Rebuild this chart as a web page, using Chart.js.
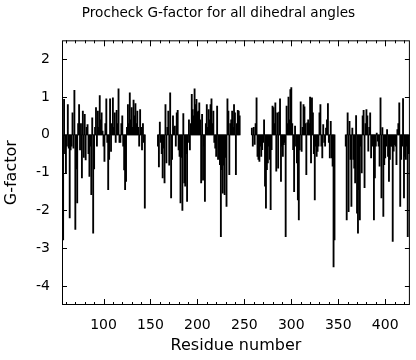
<!DOCTYPE html>
<html>
<head>
<meta charset="utf-8">
<script src="https://cdn.jsdelivr.net/npm/chart.js@4/dist/chart.umd.min.js"></script>
<style>
  body { margin: 0; background: #fff; }
</style>
</head>
<body>
<canvas id="gfactorChart" width="416" height="360"></canvas>
<script>
// first residue of each chain segment (gaps between segments have no data)
const segmentStarts = [57, 158, 258, 358];

// G-factor per residue
const gSegment1 = [
  -2.78, 0.94, -0.5, -1.0, -0.3, 0.8, -0.35, -2.2, -0.4, -0.3,
  0.58, -0.35, 1.18, -2.5, -0.9, -1.8, 0.3, 0.8, -0.4, 0.3,
  -1.14, 0.63, -0.6, 0.54, -0.66, 0.2, 0.27, -0.5, -1.1, -0.3,
  -1.58, 0.45, -2.6, -0.9, 0.2, 0.72, -0.3, 0.63, 0.2, 1.04,
  0.4, 0.58, 0.1, -0.3, -0.7, 0.3, 0.95, -0.2, -1.45, -0.65,
  0.95, -0.44, 0.3, 0.98, 0.2, 0.58, -0.2, 0.65, 0.3, 1.22,
  -0.2, -0.2, 0.3, 0.5, -0.3, -0.93, -1.45, -1.23, 0.2, 0.8,
  0.3, 1.11, 0.4, 0.72, 0.2, 0.92, 0.5, 0.83, 0.3, 0.63,
  0.2, -0.3, 0.67, 0.2, -0.4, 0.3, -0.2, -1.94
];
const gSegment2 = [
  -0.3, -0.85, 0.34, -0.2, -0.5, -1.14, -0.35, -1.27, 0.8, -0.74,
  0.2, 0.63, -0.8, 1.11, -1.67, -0.65, 0.5, 0.2, 0.23, -0.3,
  0.58, 0.65, -0.4, -0.57, -1.8, -0.6, -2.0, 0.56, -1.27, -1.36,
  -0.5, -1.76, -0.2, 0.4, -0.4, 0.3, 1.07, 0.67, 0.5, 1.22,
  0.8, 0.94, 0.6, 0.63, 0.85, 0.4, -1.27, 0.54, -1.2, -0.3,
  -1.76, 0.3, 0.8, 0.2, 0.67, 0.4, 0.8, 0.95, 0.3, 0.63,
  -0.2, -0.35, -0.57, 0.76, -0.65, -0.4, -0.79, -2.69, -0.92, -1.54,
  -0.8, -1.58, -0.6, -1.89, 0.95, 0.63, -1.05, 0.3, 0.4, 0.63,
  0.2, 0.8, 0.58, -1.05, 0.3, 0.65, 0.63, 0.5
];
const gSegment3 = [
  0.18, -0.3, 0.2, -0.25, 0.3, 0.98, -0.57, -0.65, -0.7, -0.3,
  -0.57, -0.39, -0.2, 0.4, -1.36, -1.94, -0.92, -0.74, -0.3, -0.65,
  -1.98, -0.39, 0.76, 0.72, 0.3, 0.85, -0.96, 0.58, -0.88, 0.6,
  0.95, -1.23, -0.3, -0.57, -0.26, -0.2, -2.69, 0.76, 0.3, 1.0,
  0.4, 1.2, 1.25, 0.3, -0.39, -1.5, 0.23, -0.3, -0.74, -1.72,
  -2.25, -0.4, 0.87, -0.44, 0.2, 0.8, 0.74, 0.3, -1.05, 0.32,
  0.4, 0.3, 1.0, -0.74, 0.98, 0.58, -0.5, -1.72, -0.3, -0.57,
  -0.44, -0.3, 0.58, 0.8, -0.3, -0.61, 0.27, -0.2, -0.3, 0.18,
  0.4, 0.83, -0.2, -0.61, 0.36, -0.61, -0.83, -3.49, -2.78
];
const gSegment4 = [
  -0.3, -2.25, 0.58, -2.03, 0.36, -0.65, -1.89, 0.18, -0.65, -0.88,
  -1.27, 0.51, -2.07, -2.6, -1.45, -2.25, -0.3, -1.01, 0.5, 0.65,
  -1.4, 0.3, 0.67, 0.5, -0.43, 0.2, 0.58, -0.61, -0.3, -0.12,
  -2.25, -1.14, -0.3, 0.05, -0.17, -0.3, -0.83, 0.98, -1.67, 0.19,
  -2.16, -0.79, -0.61, -0.3, 0.14, -0.57, -1.23, -0.65, -0.3, -0.3,
  -2.82, -0.43, -0.26, -0.3, -0.79, 0.14, 0.3, 0.85, -1.89, -0.65,
  -0.3, 0.96, -1.67, -0.57, -0.65, -0.3, -2.69, -0.5
];

const yTickValues = [-4, -3, -2, -1, 0, 1, 2];

// build {x, y} points for the bar dataset
const points = [];
[gSegment1, gSegment2, gSegment3, gSegment4].forEach(function (seg, s) {
    seg.forEach(function (g, i) {
        points.push({ x: segmentStarts[s] + i, y: g });
    });
});

// box around the plot + inward tick marks, like the original
const frameTicks = {
    id: 'frameTicks',
    afterLayout(chart) {
        if (chart.titleBlock) chart.titleBlock.left = 22;
    },
    afterDatasetsDraw(chart) {
        const ctx = chart.ctx;
        const a = chart.chartArea;
        const xs = chart.scales.x, ys = chart.scales.y;
        ctx.save();
        ctx.strokeStyle = '#000';
        ctx.lineWidth = 1;
        ctx.strokeRect(a.left + 0.5, a.top + 0.5, a.right - a.left - 1, a.bottom - a.top - 1);
        ctx.beginPath();
        xs.ticks.forEach(function (t) {
            const px = Math.round(xs.getPixelForValue(t.value)) + 0.5;
            const len = t.value % 50 === 0 ? 6 : 3;
            ctx.moveTo(px, a.bottom); ctx.lineTo(px, a.bottom - len);
            ctx.moveTo(px, a.top); ctx.lineTo(px, a.top + len);
        });
        ys.ticks.forEach(function (t) {
            const py = Math.round(ys.getPixelForValue(t.value)) + 0.5;
            ctx.moveTo(a.left, py); ctx.lineTo(a.left + 5, py);
            ctx.moveTo(a.right, py); ctx.lineTo(a.right - 5, py);
        });
        ctx.stroke();
        ctx.restore();
    }
};

Chart.defaults.font.family = "'DejaVu Sans', sans-serif";
Chart.defaults.color = '#000';

new Chart(document.getElementById('gfactorChart'), {
    type: 'bar',
    data: {
        datasets: [{
            data: points,
            backgroundColor: '#000',
            borderWidth: 0,
            barThickness: 1.2,
            grouped: false
        }]
    },
    options: {
        responsive: false,
        animation: false,
        layout: { padding: { left: 0, right: 1, top: 0, bottom: 0 } },
        plugins: {
            legend: { display: false },
            tooltip: { enabled: false },
            title: {
                display: true,
                text: 'Procheck G-factor for all dihedral angles',
                font: { size: 13.6, weight: 'normal' },
                padding: { top: 5, bottom: 19 }
            }
        },
        scales: {
            x: {
                type: 'linear',
                min: 55.8,
                max: 426.3,
                offset: false,
                grid: { display: false, drawTicks: false },
                border: { display: false },
                ticks: {
                    stepSize: 10,
                    includeBounds: false,
                    autoSkip: false,
                    maxRotation: 0,
                    padding: 12,
                    font: { size: 14 },
                    callback: function (v) { return v % 50 === 0 ? String(v) : ''; }
                },
                title: {
                    display: true,
                    text: 'Residue number',
                    font: { size: 16 },
                    padding: { top: 5, bottom: 5 }
                },
                afterFit: function (scale) { scale.height = 55; }
            },
            y: {
                min: -4.5,
                max: 2.5,
                grid: { display: false, drawTicks: false },
                border: { display: false },
                afterBuildTicks: function (scale) {
                    scale.ticks = yTickValues.map(function (v) { return { value: v }; });
                },
                ticks: {
                    padding: 12,
                    font: { size: 14 }
                },
                title: {
                    display: true,
                    text: 'G-factor',
                    font: { size: 16 },
                    padding: { top: 2, bottom: 2 }
                },
                afterFit: function (scale) { scale.width = 62; }
            }
        }
    },
    plugins: [frameTicks]
});
</script>
</body>
</html>
